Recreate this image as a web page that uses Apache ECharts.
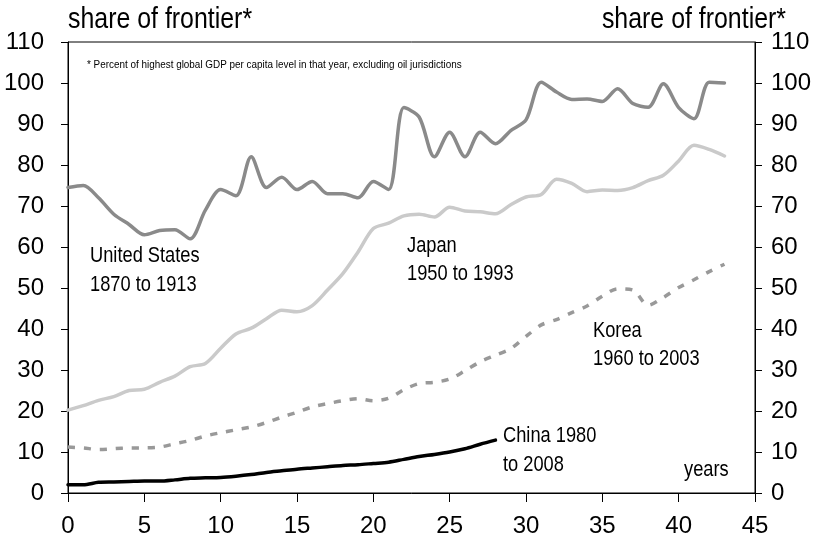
<!DOCTYPE html>
<html>
<head>
<meta charset="utf-8">
<script src="https://cdn.jsdelivr.net/npm/echarts@6/dist/echarts.min.js"></script>
<style>
  html, body { margin: 0; padding: 0; background: #fff; }
  #chart { width: 820px; height: 548px; }
</style>
</head>
<body>
<div id="chart"></div>
<script>
// Years since the start of each catch-up period
const xTicks = [0, 5, 10, 15, 20, 25, 30, 35, 40, 45];
const yTicks = [0, 10, 20, 30, 40, 50, 60, 70, 80, 90, 100, 110];

// GDP per capita as share of the frontier (%), one value per year
const unitedStates = [74.5, 75, 72, 68, 65.5, 63, 64, 64.2, 62, 69, 74, 72.5, 82, 74.5, 77, 74, 76, 73, 73, 72,
  76, 74, 94, 91.7, 82, 88, 82, 88, 85.2, 88.4, 91, 100.2, 97.8, 96, 96.1, 95.5, 98.6, 95, 94.1, 99.8,
  94, 91.3, 100.2, 100];
const japan = [20.2, 21.3, 22.6, 23.5, 25, 25.3, 27, 28.5, 30.8, 31.6, 35.3, 38.8, 40.2, 42.5, 44.6, 44.2,
  45.7, 49.5, 53.5, 58.8, 64.5, 65.8, 67.6, 68, 67.3, 69.7, 68.8, 68.6, 68.1, 70.3, 72.2, 72.8, 76.5,
  75.5, 73.5, 73.9, 73.8, 74.5, 76.2, 77.5, 81, 84.8, 83.8, 82.2];
const korea = [11.2, 11, 10.6, 10.8, 11, 11, 11.2, 12, 12.8, 13.9, 14.7, 15.4, 16.1, 17.2, 18.5, 19.7, 21,
  21.8, 22.5, 23, 22.5, 23.1, 25.2, 26.7, 27, 27.8, 29.8, 32, 33.6, 35.2, 38.2, 41, 42.3, 44, 45.6, 48,
  49.8, 49.5, 45.8, 47.7, 50.1, 52, 54, 55.8];
const china = [2, 2, 2.6, 2.7, 2.8, 2.9, 2.9, 3.2, 3.6, 3.7, 3.8, 4.1, 4.5, 5, 5.4, 5.8, 6.1, 6.4, 6.7, 6.9,
  7.2, 7.5, 8.2, 8.9, 9.4, 10, 10.8, 11.9, 12.9];

const seriesNames = ['United States', 'Japan', 'Korea', 'China'];
const seriesLabels = ['United States\n1870 to 1913', 'Japan\n1950 to 1993', 'Korea\n1960 to 2003', 'China 1980\nto 2008'];
const axisTitle = 'share of frontier*';
const footnote = '* Percent of highest global GDP per capita level in that year, excluding oil jurisdictions';
const xTitle = 'years';

const FONT = '"Liberation Sans", Arial, sans-serif';
const pairs = arr => arr.map((v, i) => [i, v]);

// Condensed-looking text: regular face squeezed horizontally
function narrowText(x, y, text, size, opts) {
  opts = opts || {};
  const align = opts.align || 'left';
  return {
    type: 'text', x: x, y: y, scaleX: opts.scaleX || 0.83, z: 10,
    style: {
      text: text, font: size + 'px ' + FONT, fill: '#000',
      align: align, textAlign: align, verticalAlign: 'top', textVerticalAlign: 'top',
      lineHeight: opts.lineHeight || undefined
    }
  };
}

const chart = echarts.init(document.getElementById('chart'), null, { renderer: 'canvas' });

const yAxisBase = {
  type: 'value', min: 0, max: 110, interval: 10,
  axisLine: { show: true, lineStyle: { color: '#000', width: 1 } },
  axisTick: { show: true, length: 7, lineStyle: { color: '#000' } },
  splitLine: { show: false },
  axisLabel: { color: '#000', fontSize: 24, fontFamily: FONT }
};

const lineBase = (color, width) => ({
  type: 'line', showSymbol: false, smooth: 0.3, z: 3,
  lineStyle: { color: color, width: width, cap: 'round', join: 'round' },
  emphasis: { disabled: true }
});

chart.setOption({
  animation: false,
  backgroundColor: '#fff',
  grid: { left: 68, right: 65, top: 42, bottom: 55, show: true, borderColor: '#000', borderWidth: 1,
    outerBoundsMode: 'none' },
  xAxis: {
    type: 'value', min: 0, max: 45, interval: 5,
    axisLine: { show: true, onZero: false, lineStyle: { color: '#000', width: 1 } },
    axisTick: { show: true, length: 9, lineStyle: { color: '#000' } },
    splitLine: { show: false },
    axisLabel: { color: '#000', fontSize: 24, fontFamily: FONT, margin: 21 }
  },
  yAxis: [
    Object.assign({}, yAxisBase, { position: 'left', axisLabel: Object.assign({}, yAxisBase.axisLabel, { margin: 24 }) }),
    Object.assign({}, yAxisBase, { position: 'right', axisLabel: Object.assign({}, yAxisBase.axisLabel, { margin: 16 }) })
  ],
  series: [
    Object.assign(lineBase('#8a8a8a', 3.5), { name: seriesNames[0], data: pairs(unitedStates) }),
    Object.assign(lineBase('#cacaca', 3.5), { name: seriesNames[1], data: pairs(japan) }),
    Object.assign(lineBase('#999999', 3.5), { name: seriesNames[2], data: pairs(korea),
      lineStyle: { color: '#999999', width: 3.5, type: [7, 9], cap: 'butt' } }),
    Object.assign(lineBase('#000000', 3.5), { name: seriesNames[3], data: pairs(china) })
  ],
  graphic: [
    narrowText(68, 5, axisTitle, 30),
    narrowText(786, 5, axisTitle, 30, { align: 'right' }),
    narrowText(87, 59, footnote, 11, { scaleX: 0.9 }),
    narrowText(90, 241, seriesLabels[0], 22, { lineHeight: 29 }),
    narrowText(407, 232, seriesLabels[1], 22, { lineHeight: 28 }),
    narrowText(593, 317, seriesLabels[2], 22, { lineHeight: 28 }),
    narrowText(503, 421, seriesLabels[3], 22, { lineHeight: 29 }),
    narrowText(684, 459, xTitle, 22)
  ]
});
</script>
</body>
</html>
